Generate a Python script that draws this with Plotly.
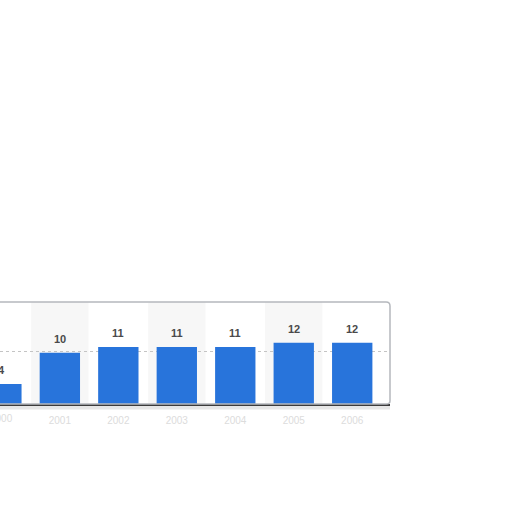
import plotly.graph_objects as go

categories = ["2000", "2001", "2002", "2003", "2004", "2005", "2006"]
values = [3.8, 9.8, 10.9, 10.9, 10.9, 11.7, 11.7]
value_labels = ["4", "10", "11", "11", "11", "12", "12"]

bar_color = "#2874db"

fig = go.Figure()
fig.add_trace(go.Bar(
    x=list(range(len(categories))),
    y=values,
    marker=dict(color=bar_color, line=dict(width=0)),
    width=0.69,
    hoverinfo="skip",
))

shapes = []
# alternating background bands
for i in range(len(categories)):
    if i % 2 == 1:
        shapes.append(dict(type="rect", xref="x", yref="paper",
                           x0=i - 0.49, x1=i + 0.49, y0=0, y1=1,
                           fillcolor="#f7f7f7", line=dict(width=0), layer="below"))
# soft shadow under frame
shapes.append(dict(type="line", xref="paper", yref="paper", x0=0, x1=1.0,
                   y0=-0.035, y1=-0.035, line=dict(color="#e6e6e6", width=4), layer="below"))
# rounded frame
shapes.append(dict(type="path", xref="paper", yref="paper",
                   path="M -0.01,1 L 0.99,1 Q 1,1 1,0.96 L 1,0.03 Q 1,0 0.99,0 L -0.01,0",
                   line=dict(color="#b5b8bd", width=1.5), layer="above"))

annotations = []
for i, (v, lab) in enumerate(zip(values, value_labels)):
    annotations.append(dict(x=i, y=v, text="<b>" + lab + "</b>", showarrow=False,
                            yanchor="bottom", yshift=6,
                            font=dict(family="Liberation Sans", size=11, color="#4a4a4a")))
# first (partly cut) category label
annotations.append(dict(x=0, y=0, yref="y", text=categories[0], showarrow=False,
                        yanchor="top", yshift=-7,
                        font=dict(family="Liberation Sans", size=10, color="#dcdcdc")))

fig.update_layout(
    width=512, height=512,
    margin=dict(l=0, r=122, t=302, b=108, autoexpand=False),
    paper_bgcolor="white", plot_bgcolor="white",
    showlegend=False,
    bargap=0.3,
    shapes=shapes,
    annotations=annotations,
    xaxis=dict(
        range=[-0.0236, 6.646],
        tickmode="array",
        tickvals=list(range(1, len(categories))),
        ticktext=categories[1:],
        automargin=False,
        showgrid=False, zeroline=False,
        showline=True, linecolor="#3a3a3a", linewidth=1.5,
        tickfont=dict(family="Liberation Sans", size=10, color="#dcdcdc"),
        ticks="", ticklabelstandoff=6,
    ),
    yaxis=dict(
        range=[0, 19.5],
        dtick=10,
        automargin=False,
        showticklabels=False,
        showgrid=True, gridcolor="#c4c4c4", gridwidth=1, griddash="dot",
        zeroline=False, showline=False, ticks="",
    ),
)

fig.write_html("out.html", post_script="document.body.style.margin='0';",
               config={"displayModeBar": False})
